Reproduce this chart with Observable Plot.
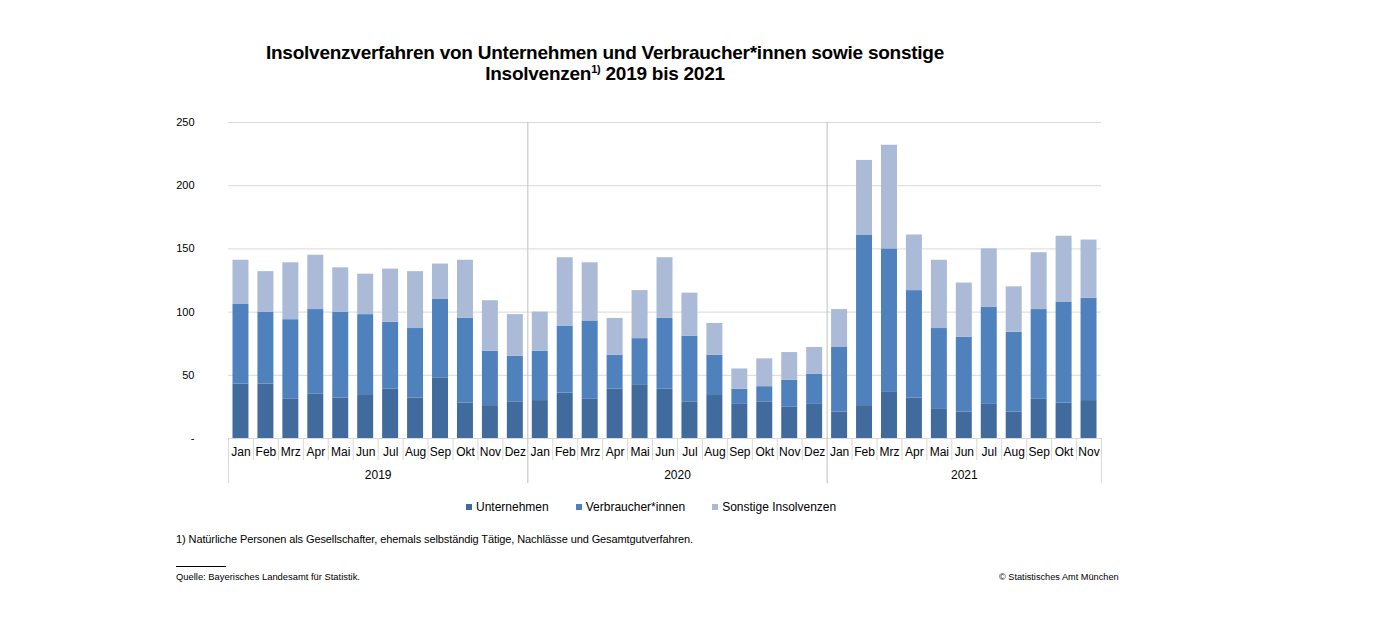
<!DOCTYPE html>
<html>
<head>
<meta charset="utf-8">
<script src="https://cdn.jsdelivr.net/npm/d3@7"></script>
<script src="https://cdn.jsdelivr.net/npm/@observablehq/plot@0.6"></script>
<style>
  html, body { margin: 0; padding: 0; background: #fff; }
  #wrap { position: relative; width: 1376px; height: 627px; overflow: hidden; font-family: "Liberation Sans", Arial, sans-serif; color: #000; }
  #chart { position: absolute; left: 0; top: 0; }
  #title { position: absolute; left: 0; width: 1210px; top: 42px; text-align: center; font-family: "Liberation Sans Narrow", "Arial Narrow", "Liberation Sans", Arial, sans-serif; font-weight: bold; font-size: 19px; line-height: 21px; letter-spacing: -0.25px; }
  #title sup { font-size: 11px; vertical-align: 0; position: relative; top: -7px; }
  #legend { position: absolute; left: 466px; top: 500px; display: flex; gap: 27px; font-size: 12px; line-height: 14px; }
  #legend .item { display: flex; align-items: center; }
  #legend .sw { width: 6px; height: 6px; margin-right: 4px; display: inline-block; }
  #note { position: absolute; left: 176px; top: 533px; font-size: 11px; letter-spacing: -0.1px; }
  #rule { position: absolute; left: 176px; top: 566px; width: 50px; height: 1px; background: #000; }
  #source { position: absolute; left: 176px; top: 571px; font-size: 9.4px; }
  #copy { position: absolute; left: 999px; top: 572px; font-size: 9.2px; }
</style>
</head>
<body>
<div id="wrap">
  <div id="chart"></div>
  <div id="title">Insolvenzverfahren von Unternehmen und Verbraucher*innen sowie sonstige<br>Insolvenzen<sup>1)</sup> 2019 bis 2021</div>
  <div id="legend"></div>
  <div id="note">1) Natürliche Personen als Gesellschafter, ehemals selbständig Tätige, Nachlässe und Gesamtgutverfahren.</div>
  <div id="rule"></div>
  <div id="source">Quelle: Bayerisches Landesamt für Statistik.</div>
  <div id="copy">© Statistisches Amt München</div>
</div>
<script>
const years = ["2019", "2020", "2021"];
const monthsPerYear = [12, 12, 11];
const monthNames = ["Jan", "Feb", "Mrz", "Apr", "Mai", "Jun", "Jul", "Aug", "Sep", "Okt", "Nov", "Dez"];
const seriesNames = ["Unternehmen", "Verbraucher*innen", "Sonstige Insolvenzen"];
const seriesColors = ["#416b9d", "#4f81bd", "#abbad7"];
const yTicks = [0, 50, 100, 150, 200, 250];

const unternehmen = [
  43, 43, 31, 35, 32, 34, 39, 32, 48, 28, 26, 29,
  30, 36, 31, 39, 42, 39, 29, 34, 27, 29, 25, 27,
  21, 26, 37, 32, 23, 21, 27, 21, 31, 28, 30
];
const verbraucher = [
  63, 57, 63, 67, 68, 64, 53, 55, 62, 67, 43, 36,
  39, 53, 62, 27, 37, 56, 52, 32, 12, 12, 21, 24,
  51, 135, 113, 85, 64, 59, 77, 63, 71, 80, 81
];
const sonstige = [
  35, 32, 45, 43, 35, 32, 42, 45, 28, 46, 40, 33,
  31, 54, 46, 29, 38, 48, 34, 25, 16, 22, 22, 21,
  30, 59, 82, 44, 54, 43, 46, 36, 45, 52, 46
];

// build keys
const keys = [];
const yearFirstKey = [];
years.forEach((yr, yi) => {
  for (let m = 0; m < monthsPerYear[yi]; m++) {
    const k = yr + "-" + monthNames[m];
    if (m === 0) yearFirstKey.push(k);
    keys.push(k);
  }
});
const seriesValues = [unternehmen, verbraucher, sonstige];
const long = [];
keys.forEach((k, i) => {
  seriesNames.forEach((s, si) => long.push({key: k, series: s, value: seriesValues[si][i]}));
});

const W = 1376, H = 490, mL = 228, mR = 275, mT = 122, mB = 52;
const frameH = H - mT - mB;
const step = (W - mL - mR) / keys.length;
const axisDepth = 45;

const yearLabelMarks = years.map((yr, yi) =>
  Plot.text([yr], {
    x: () => yearFirstKey[yi],
    text: d => d,
    frameAnchor: "bottom",
    dy: 37,
    dx: (monthsPerYear[yi] - 1) * step / 2,
    fontSize: 12,
    fill: "#000",
    lineAnchor: "middle"
  })
);

const chart = Plot.plot({
  width: W,
  height: H,
  marginLeft: mL,
  marginRight: mR,
  marginTop: mT,
  marginBottom: mB,
  style: {fontFamily: "'Liberation Sans', Arial, sans-serif", fontSize: "12px", color: "#000", background: "transparent", overflow: "visible"},
  x: {type: "band", domain: keys, paddingInner: 0.36, paddingOuter: 0.18, axis: null, label: null},
  y: {domain: [0, 250], axis: null, label: null},
  color: {domain: seriesNames, range: seriesColors},
  marks: [
    Plot.gridY(yTicks, {stroke: "#d9d9d9", strokeOpacity: 1}),
    Plot.barY(long, {x: "key", y: "value", fill: "series"}),
    // month separators in category axis
    Plot.ruleX(keys.filter(k => !yearFirstKey.includes(k)), {x: d => d, dx: -step / 2, stroke: "#d9d9d9", insetTop: frameH, insetBottom: -22}),
    // year separators (full height + axis)
    Plot.ruleX(yearFirstKey.slice(1), {x: d => d, dx: -step / 2, stroke: "#c0c0c0", insetBottom: -axisDepth}),
    // outer edges in axis area
    Plot.ruleX([keys[0]], {x: d => d, dx: -step / 2, stroke: "#d9d9d9", insetTop: frameH, insetBottom: -axisDepth}),
    Plot.ruleX([keys[keys.length - 1]], {x: d => d, dx: step / 2, stroke: "#d9d9d9", insetTop: frameH, insetBottom: -axisDepth}),
    Plot.axisY(yTicks, {tickSize: 0, tickPadding: 34, tickFormat: d => d === 0 ? "-" : String(d), fontSize: 11, label: null}),
    Plot.axisX({tickSize: 0, tickPadding: 9, tickFormat: k => k.split("-")[1], fontSize: 12, label: null}),
    ...yearLabelMarks
  ]
});
document.getElementById("chart").appendChild(chart);

const legend = document.getElementById("legend");
seriesNames.forEach((s, i) => {
  const it = document.createElement("div");
  it.className = "item";
  const sw = document.createElement("span");
  sw.className = "sw";
  sw.style.background = seriesColors[i];
  it.appendChild(sw);
  it.appendChild(document.createTextNode(s));
  legend.appendChild(it);
});
</script>
</body>
</html>
